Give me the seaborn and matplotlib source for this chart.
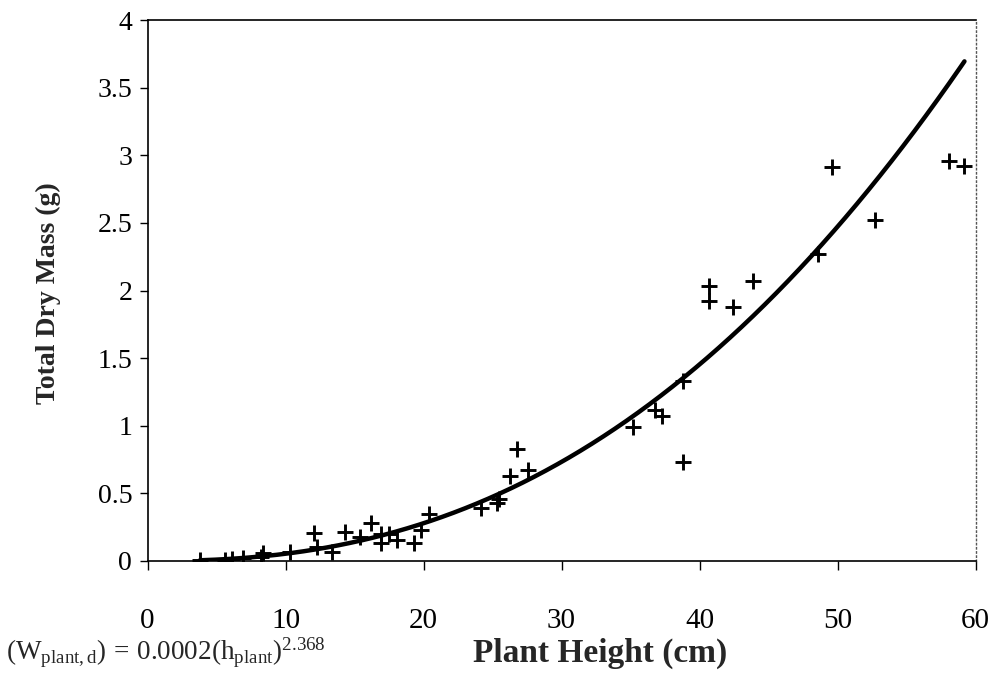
import numpy as np
import pandas as pd
import matplotlib
matplotlib.use("Agg")
import matplotlib.pyplot as plt
import seaborn as sns

# Data
plant_height = [3.8, 5.6, 6.1, 6.9, 8.2, 8.4, 10.3, 12.1, 12.3, 13.4,
                14.3, 15.4, 16.2, 16.9, 16.9, 17.5, 18.1, 19.3, 19.8, 20.4,
                24.2, 25.3, 25.5, 26.3, 26.8, 27.6, 35.2, 36.8, 37.3, 38.8,
                38.8, 40.7, 40.7, 42.4, 43.9, 48.6, 49.6, 52.7, 58.1, 59.2]
dry_mass = [0.004, 0.01, 0.012, 0.02, 0.03, 0.06, 0.07, 0.21, 0.10, 0.07,
            0.215, 0.18, 0.28, 0.20, 0.135, 0.20, 0.155, 0.13, 0.23, 0.35,
            0.39, 0.43, 0.46, 0.63, 0.83, 0.67, 0.99, 1.12, 1.07, 1.33,
            0.73, 2.03, 1.92, 1.88, 2.07, 2.27, 2.91, 2.52, 2.96, 2.92]
x_ticks = [0, 10, 20, 30, 40, 50, 60]
y_ticks = [0, 0.5, 1, 1.5, 2, 2.5, 3, 3.5, 4]
y_tick_labels = ["0", "0.5", "1", "1.5", "2", "2.5", "3", "3.5", "4"]

df = pd.DataFrame({"h": plant_height, "w": dry_mass})

# Power trendline fitted to the data (log-log least squares, as Excel does)
b, ln_a = np.polyfit(np.log(df["h"]), np.log(df["w"]), 1)
h_fit = np.linspace(df["h"].min(), df["h"].max(), 200)
fit_df = pd.DataFrame({"h": h_fit, "w": np.exp(ln_a) * h_fit ** b})

sns.set_theme(style="ticks")
plt.rcParams["font.family"] = ["Liberation Serif", "DejaVu Serif"]
plt.rcParams["mathtext.fontset"] = "custom"
plt.rcParams["mathtext.rm"] = "Liberation Serif"
plt.rcParams["mathtext.it"] = "Liberation Serif"

fig = plt.figure(figsize=(9.94, 6.73), dpi=100)
ax = fig.add_axes([147.5 / 994, 1 - 561 / 673, 828 / 994, 541 / 673])

sns.lineplot(data=fit_df, x="h", y="w", ax=ax, color="black", linewidth=3.2,
             legend=False)
sns.scatterplot(data=df, x="h", y="w", ax=ax, marker="+", s=125,
                color="black", linewidth=2.1, legend=False, zorder=3)

ax.set_xlim(0, 60)
ax.set_ylim(0, 4)
ax.set_xticks(x_ticks)
ax.set_yticks(y_ticks)
ax.set_yticklabels(y_tick_labels)
ax.set_xlabel("")
ax.set_ylabel("")
ax.tick_params(axis="x", direction="out", length=6.5, width=1.0, pad=27,
               labelsize=21, colors="black")
ax.tick_params(axis="y", direction="out", length=6, width=1.0, pad=5,
               labelsize=20, colors="black")
for lab in ax.get_xticklabels() + ax.get_yticklabels():
    lab.set_fontfamily(["Liberation Serif"])

for side in ["left", "bottom", "top"]:
    ax.spines[side].set_visible(True)
    ax.spines[side].set_color("black")
    ax.spines[side].set_linewidth(1.2)
ax.spines["right"].set_visible(True)
ax.spines["right"].set_color("#555555")
ax.spines["right"].set_linestyle((0, (1, 2)))
ax.spines["right"].set_linewidth(1.0)

fig.text(48 / 994, 1 - 293 / 673, "Total Dry Mass (g)", rotation=90,
         ha="center", va="center", fontsize=20, fontweight="bold",
         family=["Liberation Serif"])
fig.text(473 / 994, 1 - 662 / 673, "Plant Height (cm)", ha="left",
         va="baseline", fontsize=24, fontweight="bold",
         family=["Liberation Serif"])
fig.text(6 / 994, 1 - 660 / 673,
         r"$\mathrm{(W}_{\mathrm{plant,d}}\mathrm{)\/=\/0.0002(h}_{\mathrm{plant}}\mathrm{)}^{\mathrm{2.368}}$",
         ha="left", va="baseline", fontsize=19.5)

fig.savefig("out.png", dpi=100, facecolor="white")
